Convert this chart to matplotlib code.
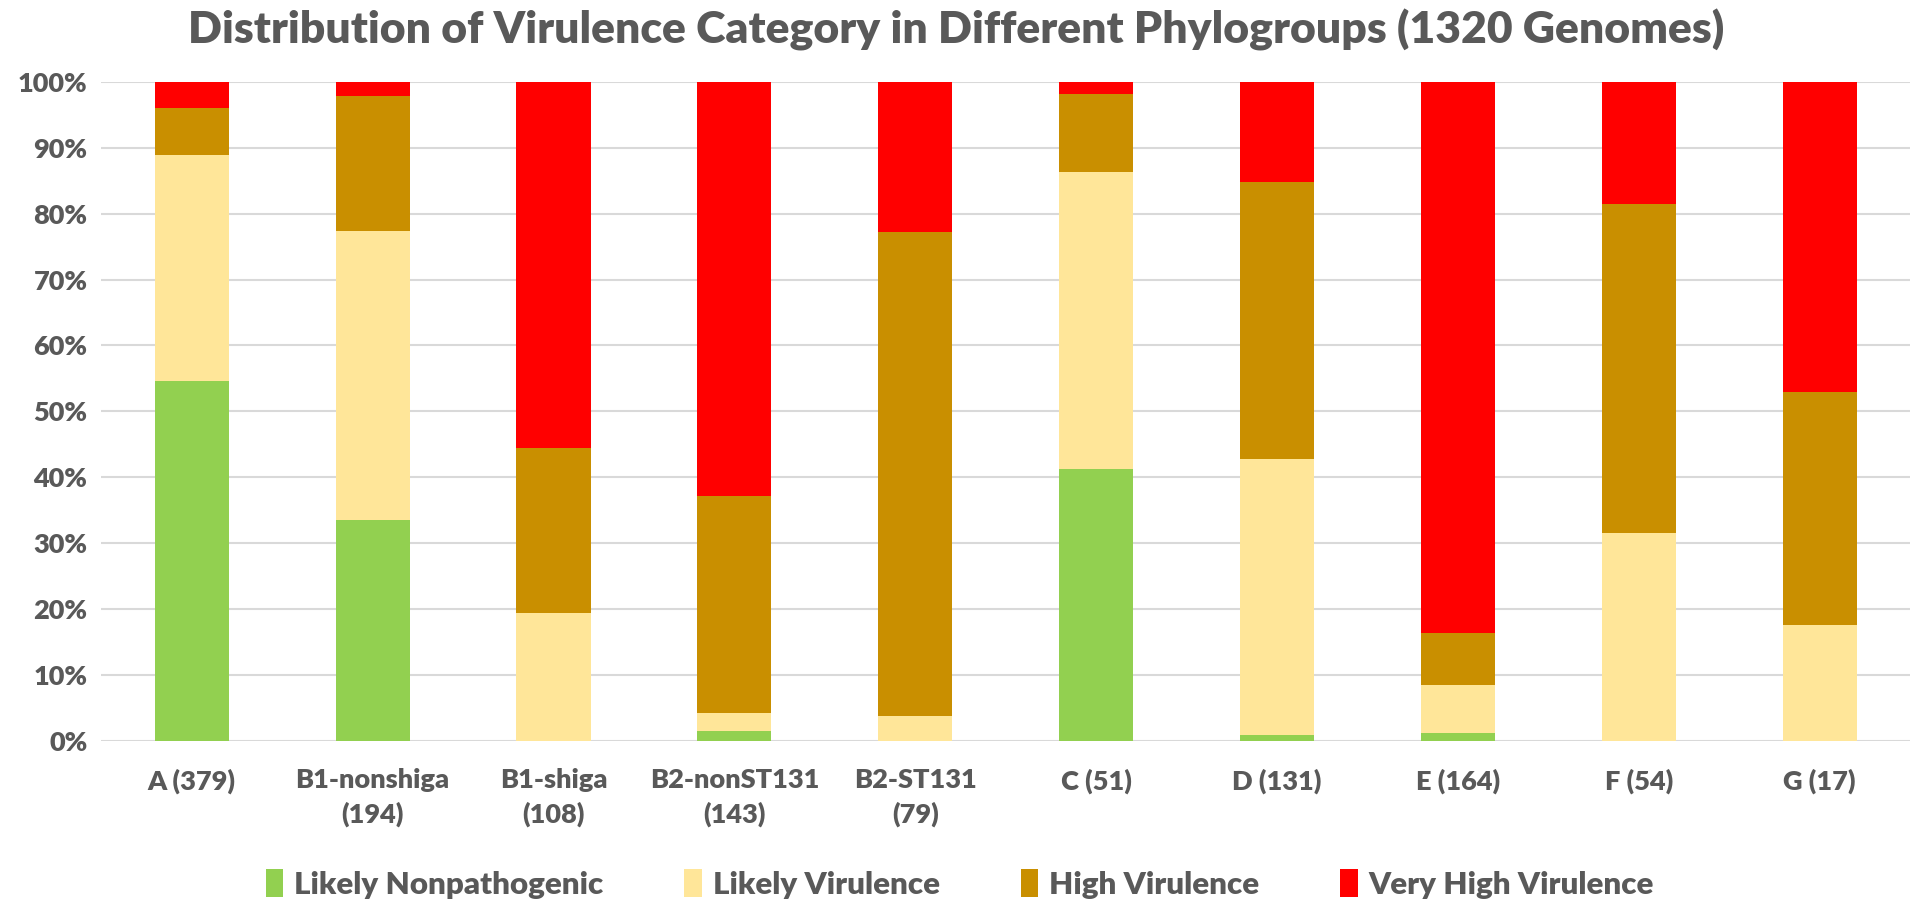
import matplotlib
matplotlib.use("Agg")
import matplotlib.pyplot as plt
import numpy as np

plt.rcParams['font.family'] = ['Lato', 'DejaVu Sans']
plt.rcParams['font.weight'] = 'heavy'

groups = ["A (379)", "B1-nonshiga\n(194)", "B1-shiga\n(108)", "B2-nonST131\n(143)", "B2-ST131\n(79)",
          "C (51)", "D (131)", "E (164)", "F (54)", "G (17)"]
categories = ["Likely Nonpathogenic", "Likely Virulence", "High Virulence", "Very High Virulence"]
colors = ["#92D050", "#FFE699", "#C98F00", "#FF0000"]

# percentage of genomes in each category
nonpath = [54.6, 33.5, 0.0, 1.4, 0.0, 41.2, 0.8, 1.2, 0.0, 0.0]
likely = [34.3, 43.8, 19.4, 2.8, 3.8, 45.1, 42.0, 7.3, 31.5, 17.6]
high = [7.1, 20.6, 25.0, 32.9, 73.4, 11.8, 42.0, 7.9, 50.0, 35.3]
very_high = [4.0, 2.1, 55.6, 62.9, 22.8, 1.9, 15.3, 83.6, 18.5, 47.1]

grey = "#595959"
fig = plt.figure(figsize=(19.12, 9.0), dpi=100)
ax = fig.add_axes([0.053, 0.177, 0.946, 0.732])

x = np.arange(len(groups))
bottom = np.zeros(len(groups))
for vals, name, c in zip([nonpath, likely, high, very_high], categories, colors):
    ax.bar(x, vals, 0.41, bottom=bottom, color=c, label=name, zorder=3)
    bottom += np.array(vals)

ax.set_xlim(-0.5, len(groups) - 0.5)
ax.set_ylim(0, 100)
ax.set_yticks(np.arange(0, 101, 10))
ax.set_yticklabels([f"{v}%" for v in range(0, 101, 10)])
ax.set_xticks(x)
ax.set_xticklabels(groups, linespacing=1.45)
ax.tick_params(axis='both', length=0, labelsize=19.5, labelcolor=grey)
ax.tick_params(axis='x', pad=20)
ax.tick_params(axis='y', pad=10)
ax.grid(axis='y', color='#D9D9D9', linewidth=1.5, zorder=0)
for s in ax.spines.values():
    s.set_visible(False)

fig.suptitle("Distribution of Virulence Category in Different Phylogroups (1320 Genomes)",
             fontsize=32, color=grey, fontweight='heavy', y=0.99)

leg = fig.legend(loc='lower center', ncol=4, frameon=False, bbox_to_anchor=(0.502, -0.03),
                 fontsize=22.5, handlelength=0.55, handleheight=1.0, columnspacing=2.6,
                 handletextpad=0.35)
for t in leg.get_texts():
    t.set_color(grey)

fig.savefig("out.png", dpi=100)
